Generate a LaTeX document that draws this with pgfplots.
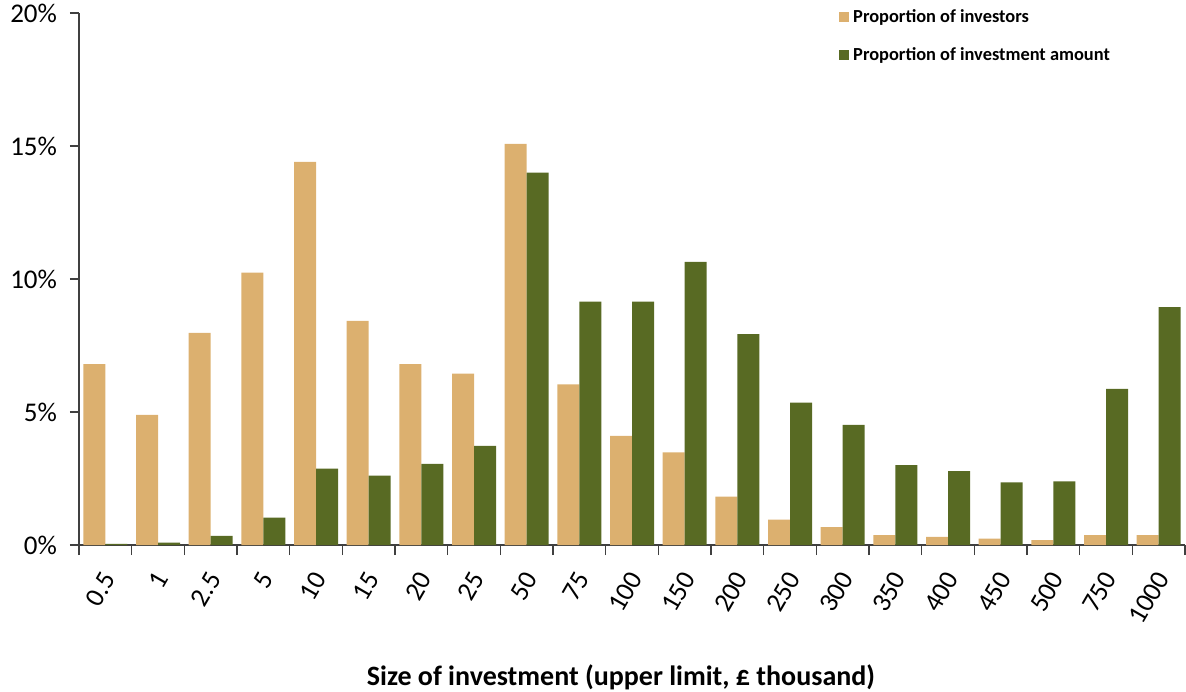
\documentclass[border=0pt]{standalone}
\usepackage{pgfplots}
\pgfplotsset{compat=1.18}
\usepackage{fontspec}
\setmainfont{Carlito}
\definecolor{tan}{RGB}{220,176,111}
\definecolor{olive}{RGB}{88,106,35}
\begin{document}
\begin{tikzpicture}
\useasboundingbox (-39.5bp,-73.5bp) rectangle (553.5bp,272.5bp);
\begin{axis}[
  scale only axis,
  width=553bp, height=266bp,
  at={(0,0)}, anchor=south west,
  ybar=0pt, bar width=11bp,
  xmin=-0.5, xmax=20.5, ymin=0, ymax=20,
  axis x line*=bottom, axis y line*=left,
  axis line style={-, color=black!75, line width=0.6bp},
  xtick={0,...,20},
  xticklabels={0.5,1,2.5,5,10,15,20,25,50,75,100,150,200,250,300,350,400,450,500,750,1000},
  major x tick style={draw=none},
  minor xtick={-0.5,0.5,...,20.5},
  minor x tick style={color=black!75, line width=0.6bp},
  minor tick length=5bp,
  ytick={0,5,10,15,20},
  yticklabel={\pgfmathprintnumber{\tick}\%},
  y tick style={color=black!75, line width=0.6bp},
  major tick length=4.5bp,
  tick align=outside,
  /pgf/number format/assume math mode=true,
  xticklabel style={xshift=3.7bp, yshift=-7bp, rotate=60, anchor=east, font=\fontsize{13.5bp}{15bp}\selectfont},
  yticklabel style={font=\fontsize{13.5bp}{15bp}\selectfont, xshift=-3bp},
  xlabel={\textbf{Size of investment (upper limit, £ thousand)}},
  xlabel style={font=\fontsize{14bp}{16bp}\selectfont, at={(axis description cs:0.49,0)}, anchor=center, yshift=-66bp},
  legend style={at={(0.687,1.015)}, anchor=north west, draw=none, fill=none,
    font=\fontsize{9.2bp}{11bp}\selectfont\bfseries, row sep=7bp, inner sep=0pt,
    legend cell align=left},
  legend image code/.code={\fill[#1,draw=none] (0bp,-2.5bp) rectangle (5bp,2.5bp);},
]
\addplot[fill=tan, draw=none] coordinates {
(0,6.80) (1,4.89) (2,7.97) (3,10.24) (4,14.40) (5,8.43) (6,6.80) (7,6.44) (8,15.08) (9,6.04) (10,4.10)
(11,3.48) (12,1.82) (13,0.95) (14,0.67) (15,0.37) (16,0.31) (17,0.24) (18,0.18) (19,0.37) (20,0.37)};
\addplot[fill=olive, draw=none] coordinates {
(0,0.04) (1,0.09) (2,0.34) (3,1.03) (4,2.87) (5,2.61) (6,3.05) (7,3.73) (8,14.00) (9,9.15) (10,9.15)
(11,10.64) (12,7.93) (13,5.35) (14,4.52) (15,3.00) (16,2.78) (17,2.35) (18,2.39) (19,5.87) (20,8.94)};
\legend{Proportion of investors, Proportion of investment amount}
\end{axis}
\end{tikzpicture}
\end{document}
